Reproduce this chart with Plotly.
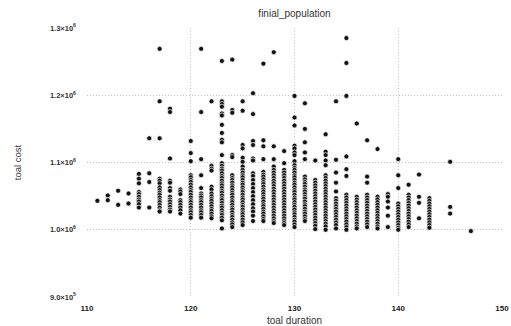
import plotly.graph_objects as go

# Total duration of each column of solutions
durations = [111, 112, 113, 114, 115, 116, 117, 118, 119, 120, 121, 122, 123, 124,
             125, 126, 127, 128, 129, 130, 131, 132, 133, 134, 135, 136, 137, 138,
             139, 140, 141, 142, 143, 145, 147]

# Total cost (in thousands) of every solution sharing that duration
costs_k = [
    [1043],
    [1051, 1044],
    [1058, 1037],
    [1054, 1039],
    [1083, 1076, 1069, 1056, 1053, 1049, 1045, 1042, 1038, 1033],
    [1136, 1084, 1071, 1033],
    [1269, 1191, 1136, 1076, 1073, 1069, 1063, 1059, 1055, 1052, 1048, 1044, 1041, 1037,
     1033, 1029, 1027],
    [1180, 1175, 1106, 1073, 1070, 1062, 1058, 1049, 1045, 1042, 1038, 1034, 1030, 1027],
    [1060, 1057, 1053, 1044, 1041, 1037, 1033, 1029, 1024],
    [1132, 1114, 1102, 1081, 1078, 1074, 1071, 1067, 1063, 1059, 1056, 1052, 1048, 1044,
     1041, 1037, 1033, 1029, 1026, 1022, 1018],
    [1269, 1175, 1105, 1081, 1062, 1054, 1051, 1048, 1044, 1041, 1037, 1033, 1029, 1026,
     1022, 1018],
    [1191, 1095, 1091, 1088, 1064, 1060, 1054, 1050, 1046, 1043, 1039, 1035, 1031, 1028,
     1024, 1020, 1017],
    [1251, 1191, 1187, 1183, 1173, 1170, 1156, 1144, 1134, 1130, 1111, 1099, 1095, 1091,
     1088, 1084, 1080, 1077, 1073, 1069, 1066, 1062, 1058, 1055, 1051, 1047, 1044, 1040,
     1036, 1033, 1029, 1025, 1022, 1018, 1014, 1002],
    [1253, 1178, 1174, 1111, 1108, 1081, 1077, 1074, 1070, 1066, 1063, 1059, 1055, 1052,
     1048, 1044, 1041, 1037, 1033, 1030, 1026, 1022, 1019, 1015, 1011, 1008, 1004],
    [1191, 1177, 1126, 1121, 1107, 1101, 1094, 1089, 1085, 1081, 1078, 1074, 1070, 1067,
     1063, 1059, 1056, 1052, 1048, 1045, 1041, 1037, 1034, 1030, 1026, 1023, 1019, 1015,
     1011, 1007],
    [1203, 1172, 1132, 1126, 1106, 1103, 1084, 1080, 1074, 1068, 1062, 1056, 1050, 1044,
     1038, 1032, 1027, 1021, 1013],
    [1247, 1133, 1124, 1105, 1086, 1082, 1079, 1075, 1071, 1068, 1064, 1060, 1057, 1053,
     1049, 1046, 1042, 1038, 1035, 1031, 1027, 1024, 1020, 1016, 1013],
    [1264, 1124, 1105, 1094, 1089, 1085, 1081, 1077, 1073, 1069, 1065, 1061, 1057, 1053,
     1049, 1045, 1041, 1037, 1033, 1029, 1025, 1021, 1017, 1013, 1010],
    [1117, 1099, 1089, 1085, 1081, 1077, 1073, 1069, 1065, 1061, 1057, 1053, 1049, 1045,
     1041, 1037, 1033, 1029, 1025, 1021, 1017, 1013, 1010, 1007],
    [1199, 1167, 1155, 1125, 1121, 1115, 1111, 1102, 1096, 1092, 1089, 1085, 1081, 1078,
     1074, 1070, 1067, 1063, 1059, 1056, 1052, 1048, 1045, 1041, 1037, 1034, 1030, 1026,
     1023, 1019, 1015, 1012, 1008, 1004],
    [1188, 1150, 1130, 1115, 1105, 1079, 1075, 1071, 1068, 1064, 1060, 1057, 1053, 1049,
     1046, 1042, 1038, 1035, 1031, 1027, 1024, 1020, 1016, 1013],
    [1103, 1074, 1070, 1066, 1062, 1058, 1054, 1050, 1046, 1042, 1038, 1034, 1030, 1026,
     1022, 1018, 1014, 1010, 1006, 1001],
    [1142, 1116, 1111, 1103, 1096, 1081, 1077, 1073, 1069, 1065, 1061, 1057, 1053, 1049,
     1045, 1041, 1037, 1033, 1029, 1025, 1021, 1017, 1013, 1009, 1005, 1000],
    [1191, 1104, 1085, 1070, 1057, 1047, 1043, 1039, 1035, 1031, 1027, 1023, 1019, 1015,
     1011, 1007, 1002],
    [1285, 1248, 1199, 1109, 1090, 1080, 1052, 1048, 1044, 1040, 1036, 1032, 1028, 1024,
     1020, 1016, 1012, 1008, 1004, 1000],
    [1158, 1049, 1045, 1041, 1037, 1033, 1029, 1025, 1021, 1017, 1013, 1009, 1005, 1002],
    [1133, 1079, 1070, 1052, 1048, 1044, 1040, 1036, 1032, 1028, 1024, 1020, 1016, 1012,
     1008, 1004],
    [1120, 1049, 1045, 1041, 1037, 1033, 1029, 1025, 1021, 1017, 1013, 1009, 1005, 1002],
    [1053, 1049, 1042, 1033, 1021, 1004],
    [1105, 1081, 1062, 1039, 1035, 1031, 1027, 1023, 1019, 1015, 1011, 1007, 1003, 1000],
    [1067, 1052, 1048, 1044, 1040, 1036, 1032, 1028, 1024, 1020, 1016, 1012, 1008, 1004],
    [1082, 1049, 1040, 1017],
    [1047, 1043, 1039, 1035, 1031, 1027, 1023, 1019, 1015, 1011, 1007, 1003],
    [1101, 1034, 1024],
    [998],
]

y_tick_vals = [900000, 1000000, 1100000, 1200000, 1300000]
y_tick_text = ["9.0×10<sup>5</sup>", "1.0×10<sup>6</sup>", "1.1×10<sup>6</sup>",
               "1.2×10<sup>6</sup>", "1.3×10<sup>6</sup>"]

xs, ys = [], []
for d, group in zip(durations, costs_k):
    for c in group:
        xs.append(d)
        ys.append(c * 1000)

font = "Liberation Sans, Arial, sans-serif"
grid = "#c4c4cc"

fig = go.Figure(
    go.Scatter(
        x=xs, y=ys, mode="markers",
        marker=dict(color="#111", size=5, line=dict(width=0.7, color="white")),
        showlegend=False,
    )
)

fig.update_layout(
    width=511, height=326,
    margin=dict(l=87, r=9, t=28, b=29, autoexpand=False),
    paper_bgcolor="white", plot_bgcolor="white",
    title=dict(text="finial_population", x=0.5, xref="paper", xanchor="center",
               y=1, yref="container", yanchor="top", pad=dict(t=10),
               font=dict(family=font, size=10, color="#333")),
    font=dict(family=font),
)

fig.update_xaxes(
    range=[110, 150], dtick=10, tick0=110,
    showgrid=True, gridcolor=grid, griddash="1px,2px", gridwidth=1,
    zeroline=False, showline=False, ticks="", ticklabelstandoff=5,
    tickfont=dict(family=font, size=8, color="#222", weight="bold"),
    title=dict(text="toal duration", standoff=6,
               font=dict(family=font, size=10, color="#333")),
)

fig.update_yaxes(
    range=[900000, 1300000], tickvals=y_tick_vals, ticktext=y_tick_text,
    showgrid=True, gridcolor=grid, griddash="1px,2px", gridwidth=1,
    zeroline=False, showline=False, ticks="", ticklabelstandoff=10,
    tickfont=dict(family=font, size=7.5, color="#333", weight="bold"),
    title=dict(text="toal cost", standoff=26,
               font=dict(family=font, size=9.5, color="#333")),
)

fig.write_html("out.html")
